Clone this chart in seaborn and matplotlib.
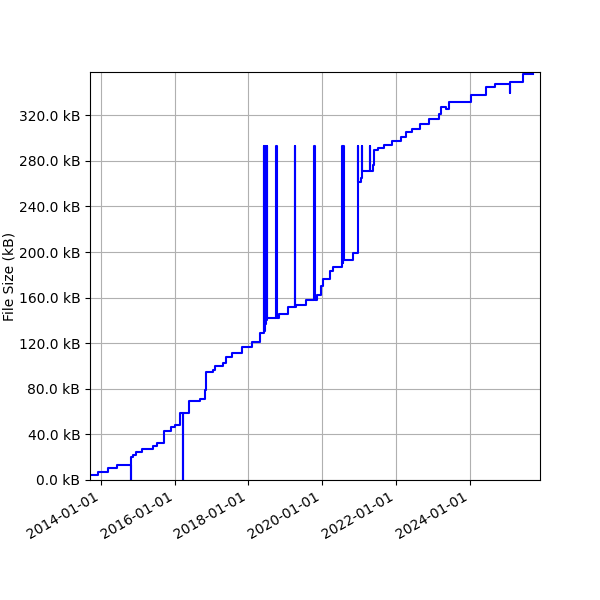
import numpy as np
import pandas as pd
import seaborn as sns
import matplotlib
matplotlib.use("Agg")
from matplotlib import pyplot as plt
import matplotlib.dates as mdates
from matplotlib.ticker import FuncFormatter, MultipleLocator

# commit dates and file size (kB)
dates = [
    "2013-09-14", "2013-12-02", "2014-03-12", "2014-06-09", "2014-10-21", "2014-10-26",
    "2014-11-15", "2014-12-15", "2015-02-12", "2015-06-01", "2015-07-11", "2015-09-19",
    "2015-11-27", "2016-01-06", "2016-02-24", "2016-03-25", "2016-03-28", "2016-05-24",
    "2016-09-10", "2016-10-30", "2016-11-09", "2017-01-17", "2017-02-06", "2017-04-26",
    "2017-05-26", "2017-07-25", "2017-11-01", "2018-02-08", "2018-04-29", "2018-06-03",
    "2018-06-06", "2018-06-12", "2018-06-15", "2018-06-22", "2018-06-25", "2018-06-30",
    "2018-07-03", "2018-10-05", "2018-10-08", "2018-11-04", "2019-02-01", "2019-04-02",
    "2019-04-05", "2019-04-21", "2019-07-20", "2019-10-17", "2019-10-20", "2019-11-06",
    "2019-12-16", "2020-01-14", "2020-03-14", "2020-04-13", "2020-07-11", "2020-07-14",
    "2020-07-20", "2020-07-23", "2020-07-28", "2020-07-31", "2020-10-28", "2020-12-17",
    "2020-12-22", "2021-01-16", "2021-01-26", "2021-01-29", "2021-04-15", "2021-04-20",
    "2021-05-15", "2021-05-25", "2021-07-04", "2021-09-01", "2021-11-20", "2022-02-17",
    "2022-04-08", "2022-06-06", "2022-08-25", "2022-11-22", "2023-03-01", "2023-03-21",
    "2023-05-10", "2023-06-09", "2024-01-13", "2024-06-10", "2024-09-07", "2025-02-03",
    "2025-02-08", "2025-06-13", "2025-09-20",
]
sizes_kb = [
    4.4, 7, 10.5, 13, 0, 20,
    22, 24.5, 27, 30, 32.5, 43,
    46.5, 48, 58.5, 0, 58.5, 69,
    71, 79, 94.7, 96.5, 100, 102.6,
    108, 111, 116.7, 121, 129, 293,
    131, 293, 137, 293, 140, 293,
    142, 293, 142, 145.6, 151.8, 293,
    151.8, 153.5, 158, 293, 158, 162,
    170, 176, 183, 187, 293, 188,
    293, 190, 293, 193, 199, 293,
    261, 265, 293, 271, 293, 271,
    276, 289.5, 291, 294, 297, 301,
    305, 308, 312, 317, 321, 327,
    325.5, 331.6, 337.7, 345, 347, 339.5,
    349, 356.5, 356.5,
]

df = pd.DataFrame({"date": pd.to_datetime(dates), "size": sizes_kb})

fig, ax = plt.subplots(figsize=(6, 6), dpi=100)
sns.lineplot(data=df, x="date", y="size", ax=ax, color="blue", linewidth=1.5,
             drawstyle="steps-post", estimator=None)

ax.set_xlim(pd.Timestamp("2013-09-14"), pd.Timestamp("2025-11-28"))
ax.set_ylim(0, 357.9)
ax.yaxis.set_major_locator(MultipleLocator(40))
ax.yaxis.set_major_formatter(FuncFormatter(lambda v, p: "%.1f kB" % v))
ax.xaxis.set_major_locator(mdates.YearLocator(2))
ax.xaxis.set_major_formatter(mdates.DateFormatter("%Y-%m-%d"))
ax.set_xlabel("")
ax.set_ylabel("File Size (kB)", labelpad=1.5)
ax.grid(True)
fig.autofmt_xdate()
fig.subplots_adjust(left=0.15, right=0.9, top=0.88, bottom=0.2)

fig.savefig("out.png", dpi=100)
